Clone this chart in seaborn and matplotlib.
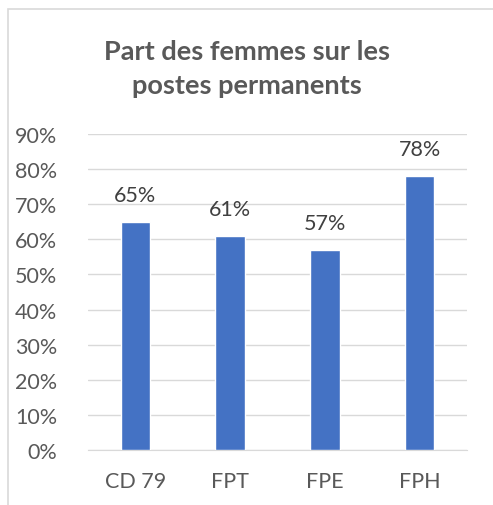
import matplotlib
matplotlib.use("Agg")
import matplotlib.pyplot as plt
import seaborn as sns
import pandas as pd
from matplotlib.patches import Rectangle
from matplotlib.ticker import PercentFormatter

categories = ["CD 79", "FPT", "FPE", "FPH"]
values = [65, 61, 57, 78]
yticks = [0, 10, 20, 30, 40, 50, 60, 70, 80, 90]

sns.set_style("white")
plt.rcParams['font.family'] = ['Lato', 'DejaVu Sans']
grey = "#595959"

df = pd.DataFrame({"cat": categories, "val": values})

fig = plt.figure(figsize=(4.93, 5.06), dpi=100)
ax = fig.add_axes([88 / 493, 1 - 451 / 506, 379 / 493, 316 / 506])

sns.barplot(data=df, x="cat", y="val", color="#4472C4", width=0.31,
            saturation=1, ax=ax, zorder=3)

ax.set_ylim(0, 90)
ax.set_yticks(yticks)
ax.yaxis.set_major_formatter(PercentFormatter(decimals=0))
ax.grid(axis="y", color="#d9d9d9", linewidth=1, zorder=0)
ax.set_axisbelow(True)
for s in ["top", "right", "left"]:
    ax.spines[s].set_visible(False)
ax.spines["bottom"].set_color("#d9d9d9")
ax.set_xlabel("")
ax.set_ylabel("")
ax.tick_params(axis="both", length=0, labelsize=15.5, colors=grey)
ax.tick_params(axis="y", pad=22)
ax.tick_params(axis="x", pad=15)

for p, v in zip(ax.patches, values):
    ax.annotate(f"{v}%", (p.get_x() + p.get_width() / 2, p.get_height()),
                xytext=(0, 12), textcoords="offset points",
                ha="center", va="bottom", fontsize=15.5, color="#404040")

fig.text(0.5, 1 - 69 / 506, "Part des femmes sur les\npostes permanents",
         ha="center", va="center", fontsize=19.5, fontweight="bold",
         color=grey, linespacing=1.45)

fig.patches.append(Rectangle((8 / 493, -0.1), 1.2, 1 - 10 / 506 + 0.1,
                             transform=fig.transFigure, fill=False,
                             edgecolor="#d9d9d9", linewidth=1.2))

fig.savefig("out.png", dpi=100)
